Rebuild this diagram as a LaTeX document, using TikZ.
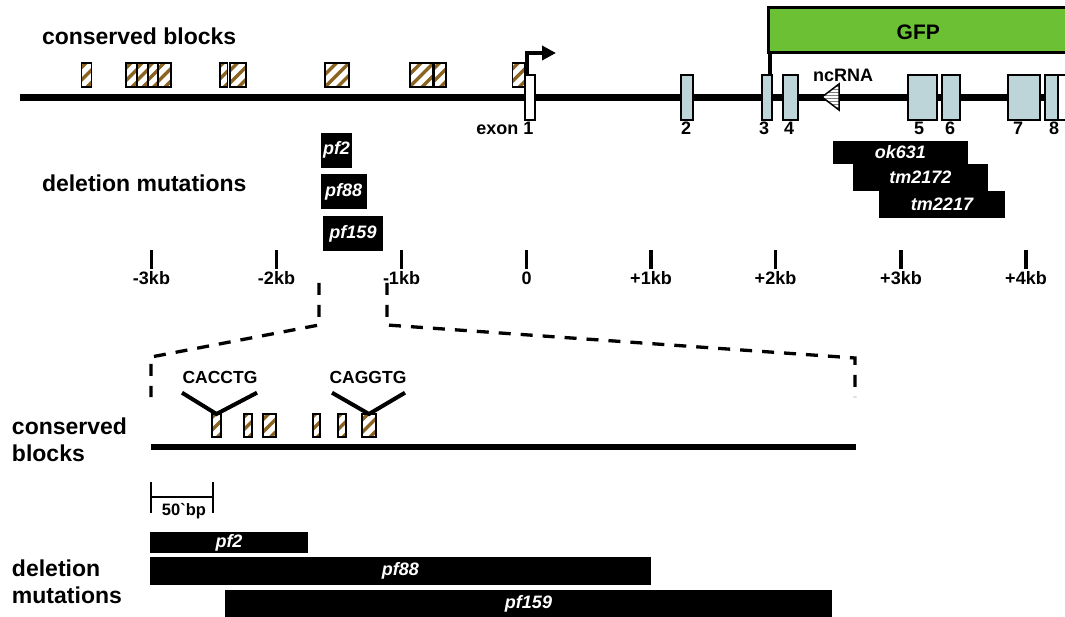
\documentclass[tikz,border=0pt]{standalone}
\usepackage{fontspec}
\setmainfont{Liberation Sans}
\usetikzlibrary{arrows.meta}
\definecolor{gfpgreen}{RGB}{108,192,52}
\definecolor{exonfill}{RGB}{189,213,216}
\definecolor{hatchbrown}{RGB}{138,100,32}
\tikzset{
  every node/.style={inner sep=0pt, outer sep=0pt},
  lbl/.style={font=\fontsize{18}{21}\selectfont\bfseries},
  biglbl/.style={font=\fontsize{23}{26.7}\selectfont\bfseries, align=left},
  dna/.style={line width=6.5pt},
  exonbox/.style={draw, line width=1.8pt, fill=exonfill, minimum height=45pt},
  whitebox/.style={draw, line width=1.8pt, fill=white, minimum height=45pt},
  consbox/.style={draw, line width=1.8pt, fill=white, path picture={
      \foreach \k in {-50,-37.5,...,50}
        \draw[hatchbrown, line width=3.3pt]
          ([xshift=\k pt-30pt, yshift=-30pt]path picture bounding box.center) -- ++(60pt,60pt);
    }},
  topcons/.style={consbox, minimum height=24pt},
  lowcons/.style={consbox, minimum height=23pt},
  delbar/.style={fill=black, text=white, font=\fontsize{18}{21}\selectfont\bfseries\itshape},
  tickmark/.style={line width=3.5pt},
  zoomdash/.style={line width=3.3pt, dash pattern=on 12pt off 10pt},
  vline/.style={line width=4pt},
}
\begin{document}
\begin{tikzpicture}[x=1pt, y=-1pt]
\useasboundingbox (0,0) rectangle (1065,617);
\clip (0,0) rectangle (1065,617);

% ---------- gene model ----------
\node[biglbl, anchor=base west] (cbtitle) at (42,45) {conserved blocks};
\node[biglbl, anchor=base west] (dmtitle) at (42,192) {deletion mutations};

\coordinate (dnaL) at (19.5,97.5);
\coordinate (dnaR) at (1075,97.5);
\draw[dna] (dnaL) -- (dnaR);

% conserved blocks upstream of exon 1
\node[topcons, minimum width=10pt] (cb1) at (86.5,75) {};
\node[topcons, minimum width=11pt] (cb2) at (131.5,75) {};
\node[topcons, minimum width=11pt] (cb3) at (142.5,75) {};
\node[topcons, minimum width=10pt] (cb4) at (153,75) {};
\node[topcons, minimum width=13pt] (cb5) at (164.5,75) {};
\node[topcons, minimum width=7.5pt] (cb6) at (223.75,75) {};
\node[topcons, minimum width=16pt] (cb7) at (238,75) {};
\node[topcons, minimum width=24pt] (cb8) at (337,75) {};
\node[topcons, minimum width=23pt] (cb9) at (421.5,75) {};
\node[topcons, minimum width=12pt] (cb10) at (440,75) {};
\node[topcons, minimum width=12.5pt] (cb11) at (518.75,75) {};

% exons
\node[whitebox, minimum width=10pt] (ex1) at (530,97.5) {};
\node[exonbox, minimum width=12pt] (ex2) at (687,97.5) {};
\node[exonbox, minimum width=10pt] (ex3) at (767,97.5) {};
\node[exonbox, minimum width=15pt] (ex4) at (790.5,97.5) {};
\node[exonbox, minimum width=29pt] (ex5) at (922.5,97.5) {};
\node[exonbox, minimum width=18pt] (ex6) at (951,97.5) {};
\node[exonbox, minimum width=32pt] (ex7) at (1024,97.5) {};
\node[exonbox, minimum width=13pt] (ex8) at (1051.5,97.5) {};
\node[whitebox, minimum width=20pt] (ex9) at (1068,97.5) {};

% transcription start
\coordinate (tss) at (556,53);
\draw[line width=4.5pt, -{Triangle[length=14pt, width=14pt]}]
  ([xshift=-3pt]ex1.north) |- (tss);

% ncRNA
\path[draw=black, line width=1.5pt, fill=white, path picture={
    \foreach \k in {0,3,...,30}
      \draw[gray, line width=0.9pt]
        ([yshift=\k pt]path picture bounding box.south west) -- ++(30pt,0pt);
  }] (822,97) -- (839,84) -- (839,110) -- cycle;
\node[lbl, anchor=base] (ncrna) at (843,82) {ncRNA};

% GFP fusion
\node[draw, line width=3pt, fill=gfpgreen, anchor=north west,
      minimum width=299.5pt, minimum height=45pt, text height=19pt,
      font=\fontsize{21}{24}\selectfont\bfseries] (gfp) at (768.5,8) {GFP};
\draw[line width=4pt] ([xshift=1pt]gfp.south west) -- ([xshift=1pt]gfp.south west |- ex3.north);

% exon labels
\node[lbl, anchor=base east] (lex1) at (533.5,135) {exon 1};
\node[lbl, anchor=base] (lex2) at (686,135) {2};
\node[lbl, anchor=base] (lex3) at (764,135) {3};
\node[lbl, anchor=base] (lex4) at (789,135) {4};
\node[lbl, anchor=base] (lex5) at (919,135) {5};
\node[lbl, anchor=base] (lex6) at (950,135) {6};
\node[lbl, anchor=base] (lex7) at (1018,135) {7};
\node[lbl, anchor=base] (lex8) at (1054,135) {8};

% deletion alleles
\node[delbar, minimum width=31pt, minimum height=35pt] (dpf2) at (336.5,150.2) {pf2};
\node[delbar, minimum width=46pt, minimum height=35pt] (dpf88) at (343.7,191.5) {pf88};
\node[delbar, minimum width=60pt, minimum height=35pt] (dpf159) at (353,233.5) {pf159};
\node[delbar, anchor=north west, minimum width=135.5pt, minimum height=23pt] (dok631) at (832.7,141) {ok631};
\node[delbar, anchor=north west, minimum width=135.5pt, minimum height=27pt] (dtm2172) at (852.7,164) {tm2172};
\node[delbar, anchor=north west, minimum width=126pt, minimum height=27pt] (dtm2217) at (879,191) {tm2217};

% kb scale
\foreach \x/\t [count=\i] in {151.5/-3kb, 276.5/-2kb, 401.5/-1kb, 526.5/0,
                              651/+1kb, 775.5/+2kb, 901/+3kb, 1026/+4kb} {
  \coordinate (kt\i) at (\x,250);
  \draw[tickmark] (kt\i) -- ++(0,19);
  \node[lbl, anchor=base] (kl\i) at (\x,285) {\t};
}

% ---------- enlarged region ----------
\coordinate (zA) at (319,283);
\coordinate (zB) at (319,325);
\coordinate (zC) at (151,357);
\coordinate (zD) at (151,397);
\coordinate (zE) at (387,283);
\coordinate (zF) at (387,325);
\coordinate (zG) at (855,358);
\coordinate (zH) at (855,397);
\draw[zoomdash] (zA) -- (zB) -- (zC) -- (zD);
\draw[zoomdash] (zE) -- (zF) -- (zG) -- (zH);

\node[biglbl, anchor=west] (cblow) at (12,439.5) {conserved\\blocks};
\node[biglbl, anchor=west] (dmlow) at (12,581.7) {deletion\\mutations};

\coordinate (lineL) at (151,447);
\coordinate (lineR) at (856,447);
\draw[dna] (lineL) -- (lineR);

\node[lowcons, minimum width=9pt] (lb1) at (216.5,425.5) {};
\node[lowcons, minimum width=8pt] (lb2) at (248,425.5) {};
\node[lowcons, minimum width=13pt] (lb3) at (269.5,425.5) {};
\node[lowcons, minimum width=7pt] (lb4) at (316.5,425.5) {};
\node[lowcons, minimum width=8pt] (lb5) at (342,425.5) {};
\node[lowcons, minimum width=14pt] (lb6) at (369,425.5) {};

% E-box motifs
\node[lbl, anchor=base, font=\fontsize{17.5}{20}\selectfont\bfseries] (m1) at (220,383) {CACCTG};
\node[lbl, anchor=base, font=\fontsize{17.5}{20}\selectfont\bfseries] (m2) at (368,383) {CAGGTG};
\coordinate (m1L) at (182,392.7);
\coordinate (m1R) at (257,392.7);
\coordinate (m2L) at (332,392.7);
\coordinate (m2R) at (405,392.7);
\draw[vline] (m1L) -- (lb1.north) -- (m1R);
\draw[vline] (m2L) -- (lb6.north) -- (m2R);

% 50 bp scale bar
\coordinate (sbL) at (151,497);
\coordinate (sbR) at (213,497);
\draw[line width=1.5pt] (sbL) -- (sbR);
\draw[line width=1.5pt] ([yshift=15pt]sbL) -- ([yshift=-16pt]sbL);
\draw[line width=1.5pt] ([yshift=15pt]sbR) -- ([yshift=-16pt]sbR);
\node[anchor=base, font=\fontsize{16.5}{19}\selectfont\bfseries] (sblbl) at (184,515) {50{\textasciigrave}bp};

% deletion alleles, enlarged
\node[delbar, anchor=north west, minimum width=158pt, minimum height=21pt] (lpf2) at (150,532) {pf2};
\node[delbar, anchor=north west, minimum width=501pt, minimum height=28pt] (lpf88) at (150,557) {pf88};
\node[delbar, anchor=north west, minimum width=607pt, minimum height=27pt] (lpf159) at (225,590) {pf159};
\end{tikzpicture}
\end{document}
